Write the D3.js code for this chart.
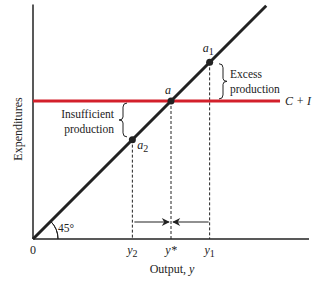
<!DOCTYPE html>
<meta charset="utf-8">
<title>Keynesian Cross</title>
<script src="https://d3js.org/d3.v7.min.js"></script>
<style>
  body { margin: 0; background: #fff; }
  text { font-family: "Liberation Serif", "Times New Roman", serif; fill: #222; }
</style>
<body>
<script>

// Chart values (output units)
const ciLevel = 100;               // C + I
const outputLevels = [72, 100, 128]; // y2, y*, y1
const pointNames = ["a2", "a", "a1"];
const tickLabels = [["0", ""], ["y", "2"], ["y*", ""], ["y", "1"]];
const tickValues = [0, 72, 100, 128];
const lineEnd = 169;   // end of 45° line
const ciEnd = 179;     // end of C+I line

const width = 313, height = 281;
const x = d3.scaleLinear().domain([0, 200]).range([33, 309]);
const y = d3.scaleLinear().domain([0, 170]).range([239, 4.4]);

const svg = d3.select("body").append("svg")
  .attr("width", width)
  .attr("height", height);

const defs = svg.append("defs");
defs.append("marker")
  .attr("id", "arrow")
  .attr("viewBox", "0 0 10 10")
  .attr("refX", 9).attr("refY", 5)
  .attr("markerWidth", 11).attr("markerHeight", 8)
  .attr("markerUnits", "userSpaceOnUse")
  .attr("orient", "auto")
  .append("path")
  .attr("d", "M0,0 L10,5 L0,10 L3,5 Z")
  .attr("fill", "#222");

// axes
svg.append("line")
  .attr("x1", x(0)).attr("x2", x(0))
  .attr("y1", y(0)).attr("y2", y(170))
  .attr("stroke", "#222").attr("stroke-width", 1.5);
svg.append("line")
  .attr("x1", x(0)).attr("x2", x(200))
  .attr("y1", y(0)).attr("y2", y(0))
  .attr("stroke", "#222").attr("stroke-width", 1.5);

// dashed guides
svg.selectAll("line.guide")
  .data(outputLevels)
  .enter().append("line")
  .attr("class", "guide")
  .attr("x1", d => x(d)).attr("x2", d => x(d))
  .attr("y1", d => y(d)).attr("y2", y(0))
  .attr("stroke", "#222").attr("stroke-width", 1)
  .attr("stroke-dasharray", "3,2");

// C + I line
svg.append("line")
  .attr("x1", x(0)).attr("x2", x(ciEnd))
  .attr("y1", y(ciLevel)).attr("y2", y(ciLevel))
  .attr("stroke", "#d3202b").attr("stroke-width", 3);

// 45 degree line
svg.append("line")
  .attr("x1", x(0)).attr("y1", y(0))
  .attr("x2", x(lineEnd)).attr("y2", y(lineEnd))
  .attr("stroke", "#222").attr("stroke-width", 3);

// points
svg.selectAll("circle.pt")
  .data(outputLevels)
  .enter().append("circle")
  .attr("class", "pt")
  .attr("cx", d => x(d)).attr("cy", d => y(d))
  .attr("r", 3.5).attr("fill", "#222");

// point labels
const labelOffsets = [[5, 9], [-6, -7], [-7, -10]];
pointNames.forEach((n, i) => {
  const t = svg.append("text")
    .attr("x", x(outputLevels[i]) + labelOffsets[i][0])
    .attr("y", y(outputLevels[i]) + labelOffsets[i][1])
    .attr("font-size", 12)
    .attr("font-style", "italic");
  t.append("tspan").text("a");
  if (n.length > 1) {
    t.append("tspan").attr("dy", 3).attr("font-size", 10)
      .attr("font-style", "normal").text(n.slice(1));
  }
});

// 45 degree arc
const arc = d3.arc()
  .innerRadius(25).outerRadius(25)
  .startAngle(Math.PI / 4).endAngle(Math.PI / 2);
svg.append("path")
  .attr("transform", `translate(${x(0)},${y(0)})`)
  .attr("d", arc())
  .attr("fill", "none").attr("stroke", "#222").attr("stroke-width", 1);
svg.append("text")
  .attr("x", x(0) + 25).attr("y", y(0) - 7)
  .attr("font-size", 11.5).text("45°");

// arrows
svg.append("line")
  .attr("x1", x(outputLevels[0]) + 2).attr("x2", x(outputLevels[1]) - 2)
  .attr("y1", 222).attr("y2", 222)
  .attr("stroke", "#222").attr("stroke-width", 1.2)
  .attr("marker-end", "url(#arrow)");
svg.append("line")
  .attr("x1", x(outputLevels[2]) - 1).attr("x2", x(outputLevels[1]) + 2)
  .attr("y1", 222).attr("y2", 222)
  .attr("stroke", "#222").attr("stroke-width", 1.2)
  .attr("marker-end", "url(#arrow)");

// tick labels
tickValues.forEach((v, i) => {
  const t = svg.append("text")
    .attr("x", x(v)).attr("y", 254)
    .attr("text-anchor", "middle")
    .attr("font-size", 12);
  if (i === 0) { t.text("0"); return; }
  t.append("tspan").attr("font-style", "italic").text(tickLabels[i][0]);
  if (tickLabels[i][1]) {
    t.append("tspan").attr("dy", 3).attr("font-size", 10).text(tickLabels[i][1]);
  }
});

// axis titles
const xt = svg.append("text")
  .attr("x", 172).attr("y", 273)
  .attr("text-anchor", "middle").attr("font-size", 12);
xt.append("tspan").text("Output, ");
xt.append("tspan").attr("font-style", "italic").text("y");

svg.append("text")
  .attr("transform", "translate(22,129) rotate(-90)")
  .attr("text-anchor", "middle").attr("font-size", 12)
  .text("Expenditures");

// C + I label
svg.append("text")
  .attr("x", x(ciEnd) + 5).attr("y", y(ciLevel) + 4)
  .attr("font-size", 12).attr("font-style", "italic")
  .text("C + I");

// braces
function brace(xb, y0, y1, dir) {
  // dir = 1 points right, -1 points left
  const m = (y0 + y1) / 2, w = 4 * dir;
  return `M${xb},${y0} Q${xb + w},${y0} ${xb + w},${y0 + 4}
          L${xb + w},${m - 3} Q${xb + w},${m} ${xb + 2 * w},${m}
          Q${xb + w},${m} ${xb + w},${m + 3}
          L${xb + w},${y1 - 4} Q${xb + w},${y1} ${xb},${y1}`;
}
svg.append("path")
  .attr("d", brace(219, y(127), y(101.5), 1))
  .attr("fill", "none").attr("stroke", "#222").attr("stroke-width", 1);
svg.append("path")
  .attr("d", brace(127, y(98.5), y(74), -1))
  .attr("fill", "none").attr("stroke", "#222").attr("stroke-width", 1);

const ex = svg.append("text").attr("font-size", 11.5);
ex.append("tspan").attr("x", 230).attr("y", 78).text("Excess");
ex.append("tspan").attr("x", 230).attr("y", 93).text("production");

const ins = svg.append("text").attr("font-size", 11.5).attr("text-anchor", "end");
ins.append("tspan").attr("x", 114).attr("y", 118).text("Insufficient");
ins.append("tspan").attr("x", 114).attr("y", 133).text("production");

</script>
</body>
